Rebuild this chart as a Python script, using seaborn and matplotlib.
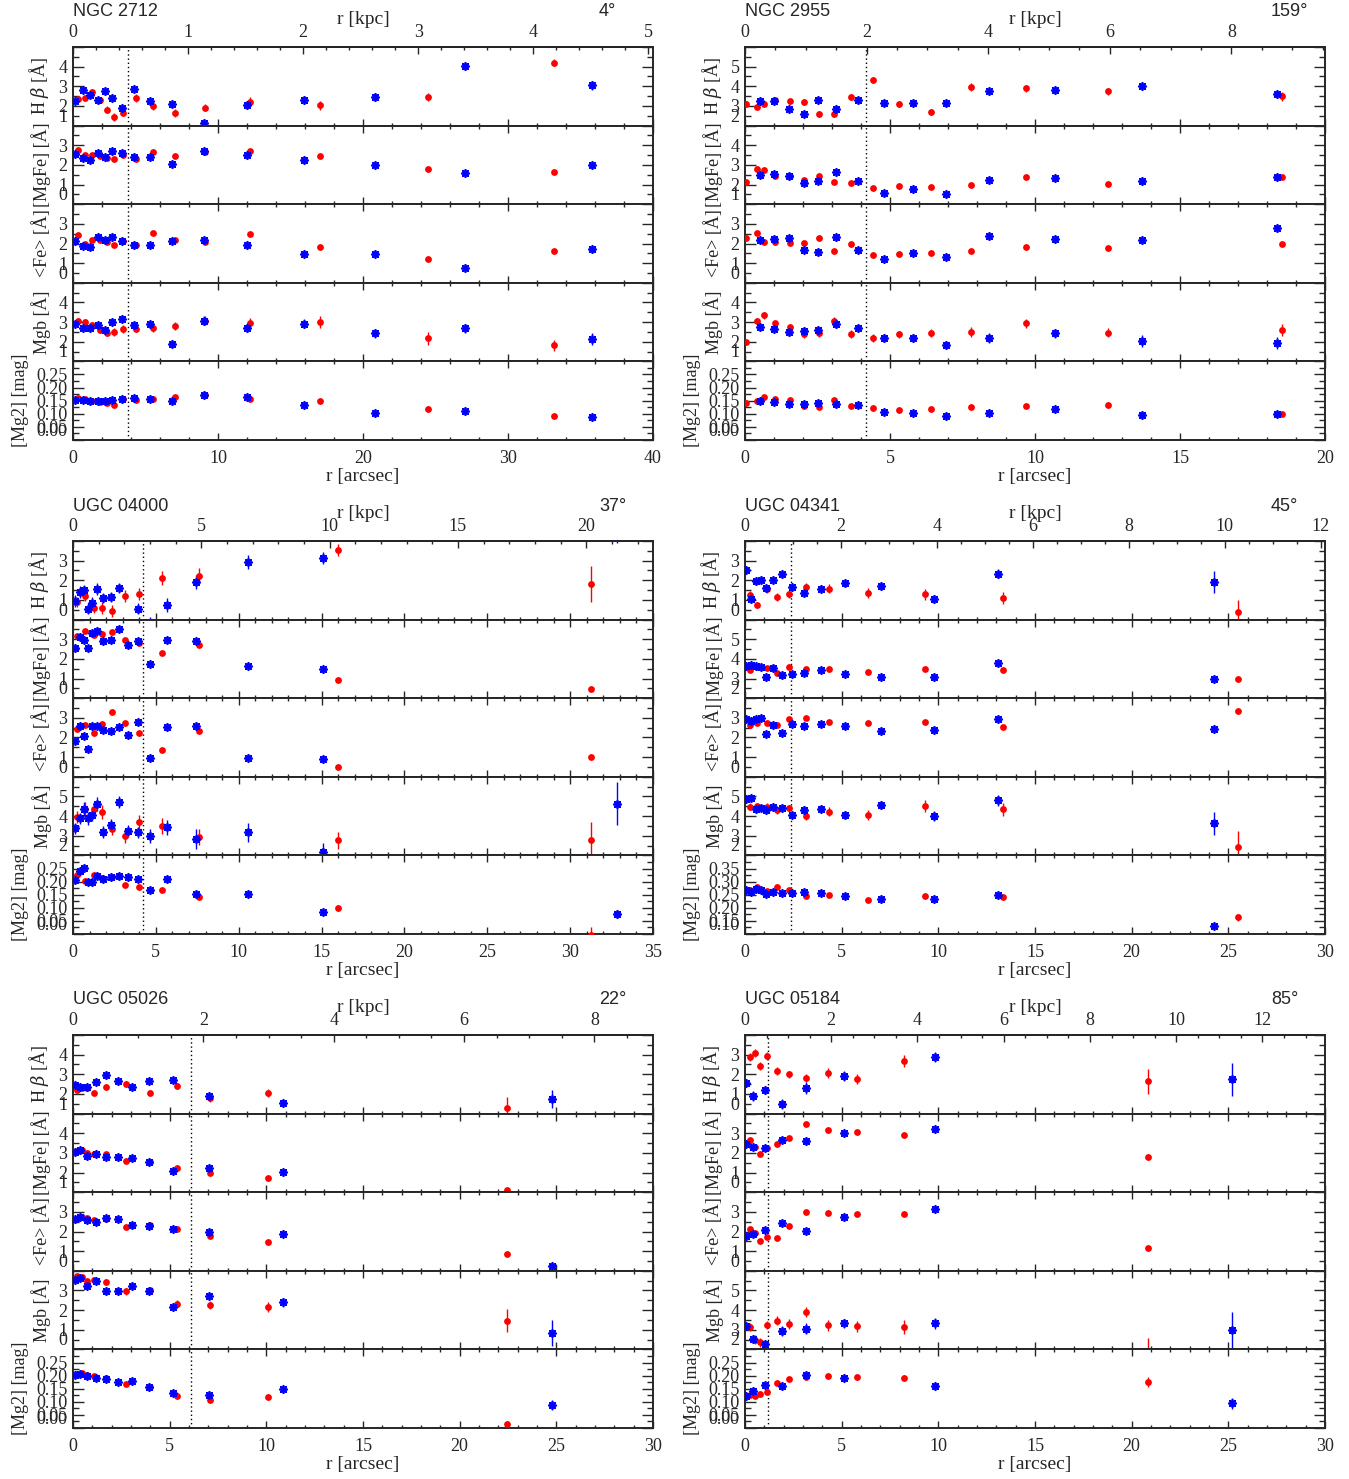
import numpy as np
import matplotlib
matplotlib.use("Agg")
import matplotlib.pyplot as plt
import seaborn as sns
from matplotlib.ticker import MultipleLocator, FixedLocator

nan = float("nan")

# ---------------- NGC 2712 ----------------
n2712_r_blue = [0.17, 0.70, 1.20, 1.70, 2.20, 2.70, 3.35, 4.20, 5.30, 6.80, 9.00, 12.00, 15.90, 20.80, 27.00, 35.80]
n2712_hb_blue = [2.25, 2.83, 2.58, 2.29, 2.75, 2.42, 1.88, 2.86, 2.27, 2.10, 1.15, 2.07, 2.32, 2.46, 4.02, 3.05]
n2712_hb_blue_err = [0.12, 0.12, 0.12, 0.12, 0.12, 0.12, 0.12, 0.12, 0.14, 0.15, 0.15, 0.20, 0.20, 0.20, 0.18, 0.22]
n2712_mgfe_blue = [2.53, 2.34, 2.25, 2.63, 2.39, 2.73, 2.61, 2.42, 2.42, 2.05, 2.71, 2.49, 2.27, 2.00, 1.61, 2.00]
n2712_fe_blue = [2.12, 1.88, 1.81, 2.34, 2.20, 2.32, 2.12, 1.90, 1.93, 2.12, 2.17, 1.93, 1.49, 1.47, 0.76, 1.73]
n2712_mgb_blue = [2.88, 2.71, 2.71, 2.83, 2.58, 3.02, 3.15, 2.83, 2.92, 1.90, 3.08, 2.71, 2.92, 2.42, 2.68, 2.15]
n2712_mgb_blue_err = [0.12, 0.12, 0.12, 0.12, 0.12, 0.14, 0.14, 0.15, 0.16, 0.18, 0.22, 0.22, 0.24, 0.24, 0.24, 0.32]
n2712_mg2_blue = [0.154, 0.154, 0.147, 0.147, 0.147, 0.151, 0.156, 0.159, 0.158, 0.147, 0.172, 0.165, 0.133, 0.103, 0.109, 0.089]
n2712_mg2_blue_err = [0.006, 0.006, 0.006, 0.006, 0.006, 0.006, 0.006, 0.006, 0.006, 0.007, 0.007, 0.007, 0.007, 0.008, 0.008, 0.008]
n2712_r_red = [0.32, 0.84, 1.34, 1.83, 2.35, 2.85, 3.46, 4.36, 5.50, 7.00, 9.13, 12.24, 17.06, 24.50, 33.20]
n2712_hb_red = [2.36, 2.39, 2.69, 2.32, 1.80, 1.42, 1.66, 2.42, 1.98, 1.66, 1.92, 2.22, 2.03, 2.46, 4.20]
n2712_hb_red_err = [0.12, 0.12, 0.15, 0.15, 0.18, 0.20, 0.18, 0.20, 0.20, 0.20, 0.20, 0.22, 0.22, 0.22, 0.18]
n2712_mgfe_red = [2.78, 2.49, 2.49, 2.44, 2.37, 2.29, 2.51, 2.32, 2.64, 2.47, 2.68, 2.73, 2.46, 1.81, 1.63]
n2712_fe_red = [2.41, 1.98, 2.19, 2.17, 2.08, 1.92, 2.14, 1.92, 2.51, 2.20, 2.08, 2.47, 1.80, 1.20, 1.64]
n2712_mgb_red = [3.08, 3.02, 2.85, 2.59, 2.46, 2.51, 2.66, 2.66, 2.71, 2.80, 3.08, 2.95, 3.02, 2.17, 1.81]
n2712_mgb_red_err = [0.12, 0.12, 0.15, 0.15, 0.18, 0.20, 0.20, 0.18, 0.20, 0.22, 0.25, 0.25, 0.30, 0.35, 0.30]
n2712_mg2_red = [0.160, 0.155, 0.147, 0.145, 0.142, 0.133, 0.156, 0.154, 0.155, 0.165, 0.172, 0.156, 0.149, 0.120, 0.093]
n2712_mg2_red_err = [0.006, 0.006, 0.006, 0.006, 0.006, 0.006, 0.006, 0.006, 0.006, 0.007, 0.007, 0.007, 0.007, 0.008, 0.008]

# ---------------- NGC 2955 ----------------
n2955_r_blue = [0.50, 1.01, 1.53, 2.03, 2.53, 3.15, 3.91, 4.79, 5.79, 6.93, 8.41, 10.68, 13.70, 18.35]
n2955_hb_blue = [3.24, 3.24, 2.86, 2.58, 3.29, 2.83, 3.32, 3.14, 3.14, 3.17, 3.76, 3.80, 4.03, 3.59]
n2955_hb_blue_err = [0.15, 0.15, 0.15, 0.15, 0.15, 0.15, 0.12, 0.15, 0.15, 0.15, 0.15, 0.15, 0.15, 0.18]
n2955_mgfe_blue = [2.49, 2.54, 2.44, 2.10, 2.17, 2.63, 2.19, 1.59, 1.76, 1.54, 2.25, 2.31, 2.17, 2.39]
n2955_fe_blue = [2.17, 2.25, 2.29, 1.69, 1.56, 2.31, 1.69, 1.22, 1.51, 1.32, 2.36, 2.25, 2.20, 2.80]
n2955_mgb_blue = [2.76, 2.66, 2.49, 2.54, 2.59, 2.88, 2.68, 2.17, 2.17, 1.83, 2.17, 2.42, 2.03, 1.92]
n2955_mgb_blue_err = [0.15, 0.15, 0.20, 0.20, 0.20, 0.20, 0.15, 0.20, 0.20, 0.22, 0.25, 0.25, 0.30, 0.30]
n2955_mg2_blue = [0.147, 0.144, 0.137, 0.139, 0.140, 0.136, 0.133, 0.107, 0.104, 0.092, 0.103, 0.120, 0.095, 0.098]
n2955_mg2_blue_err = [0.006, 0.006, 0.006, 0.006, 0.006, 0.006, 0.006, 0.006, 0.006, 0.006, 0.006, 0.006, 0.007, 0.007]
n2955_r_red = [0.03, 0.41, 0.66, 1.03, 1.54, 2.03, 2.56, 3.06, 3.66, 4.43, 5.31, 6.43, 7.81, 9.68, 12.53, 18.50]
n2955_hb_red = [3.12, 2.93, 3.08, 3.32, 3.24, 3.19, 2.58, 2.58, 3.46, 4.34, 3.10, 2.71, 3.95, 3.90, 3.75, 3.49]
n2955_hb_red_err = [0.12, 0.12, 0.15, 0.12, 0.12, 0.15, 0.15, 0.15, 0.15, 0.15, 0.15, 0.15, 0.20, 0.18, 0.18, 0.22]
n2955_mgfe_red = [2.14, 2.81, 2.73, 2.41, 2.46, 2.22, 2.44, 2.12, 2.10, 1.83, 1.92, 1.88, 1.97, 2.39, 2.03, 2.39]
n2955_fe_red = [2.29, 2.51, 2.08, 2.07, 2.02, 2.05, 2.29, 1.61, 2.00, 1.41, 1.49, 1.54, 1.63, 1.81, 1.75, 1.98]
n2955_mgb_red = [1.98, 3.05, 3.34, 2.93, 2.75, 2.39, 2.46, 3.07, 2.41, 2.19, 2.37, 2.46, 2.51, 2.93, 2.47, 2.59]
n2955_mgb_red_err = [0.12, 0.15, 0.18, 0.15, 0.15, 0.20, 0.20, 0.20, 0.20, 0.20, 0.20, 0.20, 0.25, 0.22, 0.22, 0.30]
n2955_mg2_red = [0.142, 0.150, 0.163, 0.155, 0.151, 0.131, 0.127, 0.151, 0.128, 0.122, 0.114, 0.118, 0.127, 0.128, 0.133, 0.099]
n2955_mg2_red_err = [0.006, 0.006, 0.006, 0.006, 0.006, 0.006, 0.006, 0.006, 0.006, 0.006, 0.006, 0.006, 0.006, 0.006, 0.007, 0.008]

# ---------------- UGC 04000 ----------------
u4000_r_blue = [0.15, 0.41, 0.66, 0.92, 1.17, 1.42, 1.80, 2.29, 2.80, 3.30, 3.94, 4.65, 5.67, 7.40, 10.57, 15.10, 32.84]
u4000_hb_blue = [0.95, 1.41, 1.51, 0.56, 0.86, 1.56, 1.10, 1.14, 1.59, nan, 0.56, -0.30, 0.73, 1.92, 2.93, 3.15, 4.60]
u4000_hb_blue_err = [0.30, 0.30, 0.25, 0.30, 0.30, 0.30, 0.25, 0.25, 0.25, 0.30, 0.30, 0.45, 0.35, 0.35, 0.35, 0.30, 0.70]
u4000_mgfe_blue = [2.56, 3.12, 2.97, 2.54, 3.31, 3.42, 2.92, 2.97, 3.51, 2.69, 2.92, 1.73, 2.98, 2.90, 1.63, 1.49, nan]
u4000_fe_blue = [1.83, 2.61, 2.08, 1.39, 2.59, 2.58, 2.37, 2.34, 2.53, 2.15, 2.78, 0.97, 2.53, 2.61, 0.98, 0.93, nan]
u4000_mgb_blue = [3.37, 3.88, 4.36, 3.88, 4.05, 4.61, 3.20, 3.54, 4.73, 3.24, 3.17, 3.00, 3.42, 2.83, 3.17, 2.15, 4.64]
u4000_mgb_blue_err = [0.30, 0.30, 0.35, 0.35, 0.30, 0.35, 0.30, 0.30, 0.30, 0.30, 0.30, 0.35, 0.40, 0.50, 0.50, 0.50, 1.10]
u4000_mg2_blue = [0.205, 0.240, 0.253, 0.198, 0.198, 0.221, 0.211, 0.217, 0.220, 0.216, 0.211, 0.169, 0.210, 0.154, 0.154, 0.085, 0.075]
u4000_mg2_blue_err = [0.008, 0.008, 0.008, 0.008, 0.008, 0.008, 0.008, 0.008, 0.008, 0.008, 0.008, 0.008, 0.008, 0.010, 0.010, 0.010, 0.015]
u4000_r_red = [0.23, 0.74, 1.25, 1.75, 2.36, 3.13, 3.99, 5.36, 7.63, 15.99, 31.24]
u4000_hb_red = [0.88, 1.20, 0.59, 0.59, 0.44, 1.19, 1.29, 2.10, 2.24, 3.54, 1.81]
u4000_hb_red_err = [0.25, 0.25, 0.25, 0.30, 0.30, 0.30, 0.30, 0.35, 0.40, 0.30, 0.90]
u4000_mgfe_red = [3.15, 3.42, 3.20, 3.29, 3.37, 2.98, 2.83, 2.31, 2.69, 0.92, 0.47]
u4000_fe_red = [2.42, 2.66, 2.24, 2.68, 3.29, 2.76, 2.22, 1.36, 2.31, 0.51, 1.02]
u4000_mgb_red = [3.97, 4.36, 4.36, 4.22, 3.34, 2.98, 3.71, 3.49, 2.95, 2.76, 2.76]
u4000_mgb_red_err = [0.30, 0.35, 0.35, 0.35, 0.30, 0.35, 0.35, 0.40, 0.40, 0.45, 0.95]
u4000_mg2_red = [0.226, 0.203, 0.225, 0.214, 0.216, 0.186, 0.179, 0.169, 0.142, 0.099, -0.005]
u4000_mg2_red_err = [0.008, 0.008, 0.008, 0.008, 0.008, 0.008, 0.008, 0.008, 0.010, 0.012, 0.030]

# ---------------- UGC 04341 ----------------
u4341_r_blue = [0.04, 0.29, 0.55, 0.82, 1.08, 1.43, 1.92, 2.45, 3.07, 3.93, 5.17, 7.06, 9.76, 13.11, 24.28]
u4341_hb_blue = [2.54, 1.03, 1.95, 2.02, 1.59, 2.02, 2.32, 1.64, 1.34, 1.56, 1.86, 1.69, 1.05, 2.34, 1.90]
u4341_hb_blue_err = [0.15, 0.15, 0.12, 0.12, 0.15, 0.12, 0.15, 0.15, 0.15, 0.18, 0.18, 0.18, 0.20, 0.22, 0.55]
u4341_mgfe_blue = [3.64, 3.71, 3.66, 3.58, 3.07, 3.53, 3.19, 3.22, 3.27, 3.44, 3.24, 3.07, 3.07, 3.78, 2.97]
u4341_fe_blue = [2.92, 2.83, 2.92, 3.00, 2.19, 2.66, 2.25, 2.71, 2.58, 2.69, 2.61, 2.32, 2.39, 2.95, 2.42]
u4341_mgb_blue = [4.86, 4.90, 4.34, 4.39, 4.31, 4.44, 4.39, 4.05, 4.31, 4.36, 4.05, 4.56, 4.02, 4.81, 3.63]
u4341_mgb_blue_err = [0.15, 0.15, 0.15, 0.15, 0.15, 0.15, 0.15, 0.15, 0.18, 0.20, 0.22, 0.22, 0.25, 0.28, 0.60]
u4341_mg2_blue = [0.267, 0.260, 0.270, 0.269, 0.254, 0.260, 0.258, 0.256, 0.260, 0.256, 0.246, 0.235, 0.235, 0.247, 0.131]
u4341_mg2_blue_err = [0.006, 0.006, 0.006, 0.006, 0.006, 0.006, 0.006, 0.006, 0.006, 0.006, 0.006, 0.006, 0.006, 0.006, 0.010]
u4341_r_red = [0.24, 0.62, 1.13, 1.63, 2.25, 3.13, 4.35, 6.36, 9.29, 13.36, 25.52]
u4341_hb_red = [1.25, 0.75, 1.54, 1.17, 1.29, 1.68, 1.58, 1.36, 1.29, 1.10, 0.37]
u4341_hb_red_err = [0.20, 0.15, 0.18, 0.20, 0.20, 0.20, 0.22, 0.25, 0.28, 0.30, 0.65]
u4341_mgfe_red = [3.46, 3.59, 3.53, 3.27, 3.59, 3.51, 3.49, 3.31, 3.49, 3.41, 2.97]
u4341_fe_red = [2.63, 2.76, 2.75, 2.64, 2.95, 3.00, 2.78, 2.73, 2.78, 2.54, 3.34]
u4341_mgb_red = [4.47, 4.51, 4.47, 4.31, 4.39, 4.00, 4.22, 4.05, 4.51, 4.34, 2.44]
u4341_mgb_red_err = [0.18, 0.15, 0.18, 0.20, 0.18, 0.22, 0.22, 0.25, 0.30, 0.35, 0.80]
u4341_mg2_red = [0.267, 0.278, 0.265, 0.278, 0.267, 0.245, 0.247, 0.231, 0.245, 0.242, 0.164]
u4341_mg2_red_err = [0.006, 0.006, 0.006, 0.006, 0.006, 0.006, 0.006, 0.006, 0.007, 0.007, 0.014]

# ---------------- UGC 05026 ----------------
u5026_r_blue = [0.09, 0.35, 0.70, 1.20, 1.72, 2.31, 3.07, 3.92, 5.16, 7.02, 10.87, 24.75]
u5026_hb_blue = [2.47, 2.37, 2.37, 2.61, 2.95, 2.68, 2.37, 2.66, 2.69, 1.90, 1.56, 1.75]
u5026_hb_blue_err = [0.10, 0.10, 0.10, 0.10, 0.10, 0.10, 0.10, 0.12, 0.12, 0.15, 0.15, 0.45]
u5026_mgfe_blue = [3.05, 3.15, 2.83, 2.95, 2.80, 2.78, 2.73, 2.53, 2.10, 2.22, 2.02, nan]
u5026_fe_blue = [2.66, 2.75, 2.61, 2.46, 2.71, 2.66, 2.31, 2.27, 2.12, 1.95, 1.86, 0.25]
u5026_mgb_blue = [3.54, 3.63, 3.24, 3.46, 2.95, 2.98, 3.25, 2.95, 2.14, 2.73, 2.39, 0.83]
u5026_mgb_blue_err = [0.10, 0.10, 0.10, 0.12, 0.12, 0.12, 0.12, 0.15, 0.15, 0.15, 0.22, 0.65]
u5026_mg2_blue = [0.203, 0.208, 0.197, 0.191, 0.186, 0.176, 0.179, 0.158, 0.133, 0.125, 0.148, 0.087]
u5026_mg2_blue_err = [0.005, 0.005, 0.005, 0.005, 0.006, 0.006, 0.006, 0.006, 0.007, 0.007, 0.008, 0.018]
u5026_r_red = [0.20, 0.46, 0.72, 1.07, 1.72, 2.72, 3.99, 5.36, 7.10, 10.07, 22.44]
u5026_hb_red = [2.22, 2.32, 2.32, 2.07, 2.34, 2.51, 2.05, 2.42, 1.78, 2.05, 1.29]
u5026_hb_red_err = [0.12, 0.12, 0.12, 0.12, 0.15, 0.15, 0.15, 0.15, 0.20, 0.22, 0.55]
u5026_mgfe_red = [3.12, 3.14, 3.02, 2.93, 2.93, 2.59, 2.56, 2.22, 1.98, 1.71, 1.12]
u5026_fe_red = [2.66, 2.76, 2.69, 2.56, 2.63, 2.24, 2.32, 2.15, 1.76, 1.47, 0.86]
u5026_mgb_red = [3.71, 3.68, 3.46, 3.54, 3.41, 2.95, 3.00, 2.31, 2.27, 2.14, 1.47]
u5026_mgb_red_err = [0.12, 0.12, 0.12, 0.12, 0.15, 0.18, 0.18, 0.20, 0.20, 0.25, 0.60]
u5026_mg2_red = [0.208, 0.209, 0.204, 0.197, 0.189, 0.169, 0.157, 0.124, 0.107, 0.117, 0.015]
u5026_mg2_red_err = [0.005, 0.005, 0.005, 0.005, 0.006, 0.006, 0.006, 0.006, 0.007, 0.007, 0.010]

# ---------------- UGC 05184 ----------------
u5184_r_blue = [0.04, 0.40, 1.04, 1.90, 3.16, 5.10, 9.82, 25.20]
u5184_hb_blue = [1.58, 0.90, 1.20, 0.49, 1.32, 1.92, 2.88, 1.75]
u5184_hb_blue_err = [0.20, 0.25, 0.22, 0.25, 0.30, 0.25, 0.25, 0.85]
u5184_mgfe_blue = [2.46, 2.29, 2.27, 2.66, 2.59, 3.02, 3.20, nan]
u5184_fe_blue = [1.75, 1.85, 2.10, 2.44, 2.03, 2.76, 3.12, nan]
u5184_mgb_blue = [3.20, 2.53, 2.27, 2.95, 3.05, 3.32, 3.34, 2.97]
u5184_mgb_blue_err = [0.20, 0.22, 0.22, 0.25, 0.28, 0.25, 0.28, 0.95]
u5184_mg2_blue = [0.122, 0.142, 0.164, 0.160, 0.202, 0.189, 0.160, 0.094]
u5184_mg2_blue_err = [0.008, 0.008, 0.008, 0.008, 0.008, 0.008, 0.008, 0.020]
u5184_r_red = [0.26, 0.53, 0.77, 1.15, 1.66, 2.30, 3.16, 4.28, 5.78, 8.21, 20.84]
u5184_hb_red = [2.86, 3.07, 2.44, 2.93, 2.17, 2.00, 1.81, 2.05, 1.78, 2.68, 1.64]
u5184_hb_red_err = [0.20, 0.20, 0.20, 0.18, 0.20, 0.18, 0.22, 0.25, 0.25, 0.30, 0.65]
u5184_mgfe_red = [2.64, 2.29, 1.93, 2.24, 2.46, 2.75, 3.46, 3.17, 3.05, 2.92, 1.78]
u5184_fe_red = [2.12, 1.92, 1.53, 1.71, 1.68, 2.29, 3.00, 2.93, 2.88, 2.90, 1.17]
u5184_mgb_red = [3.14, 2.49, 2.36, 3.22, 3.47, 3.29, 3.90, 3.22, 3.17, 3.14, 1.80]
u5184_mgb_red_err = [0.22, 0.22, 0.22, 0.20, 0.25, 0.25, 0.25, 0.28, 0.28, 0.35, 0.78]
u5184_mg2_red = [0.126, 0.123, 0.128, 0.139, 0.173, 0.187, 0.193, 0.198, 0.193, 0.192, 0.175]
u5184_mg2_red_err = [0.006, 0.006, 0.006, 0.006, 0.007, 0.007, 0.007, 0.007, 0.008, 0.009, 0.020]

galaxy_names = ["NGC 2712", "NGC 2955", "UGC 04000", "UGC 04341", "UGC 05026", "UGC 05184"]
galaxy_prefixes = ["n2712", "n2955", "u4000", "u4341", "u5026", "u5184"]
galaxy_angles = ["4°", "159°", "37°", "45°", "22°", "85°"]
r_max_arcsec = [40, 20, 35, 30, 30, 30]
r_max_kpc = [5.04, 9.54, 22.6, 12.09, 8.9, 13.45]
r_bulge = [3.82, 4.18, 4.25, 2.38, 6.12, 1.17]

index_keys = ["hb", "mgfe", "fe", "mgb", "mg2"]
index_labels = [r"H $\beta$ [Å]", "[MgFe] [Å]", "<Fe> [Å]", "Mgb [Å]", "[Mg2] [mag]"]

# layout / style (not data)
ylims_all = [
    [(1, 5), (0, 4), (0, 4), (1, 5), (0, 0.3)],
    [(2, 6), (1, 5), (0, 4), (1, 5), (0, 0.3)],
    [(0, 4), (0, 4), (0, 4), (2, 6), (0, 0.3)],
    [(0, 4), (2, 6), (0, 4), (2, 6), (0.1, 0.4)],
    [(1, 5), (1, 5), (0, 4), (0, 4), (0, 0.3)],
    [(0, 4), (0, 4), (0, 4), (2, 6), (0, 0.3)],
]
xmajor = [10, 5, 5, 5, 5, 5]
xminor = [2, 1, 1, 1, 1, 1]
kmajor = [1, 2, 5, 2, 2, 2]
kminor = [0.2, 0.5, 1, 0.5, 0.5, 0.5]
panel_x0 = [73, 745, 73, 745, 73, 745]
panel_y0 = [47, 47, 541, 541, 1035, 1035]

W, H = 1349, 1479
AXW = 580
SUBH = 78.6

sns.set_style("ticks")
plt.rcParams["font.family"] = ["Liberation Serif", "DejaVu Serif"]
plt.rcParams["mathtext.fontset"] = "dejavuserif"
plt.rcParams["axes.linewidth"] = 1.4

fig = plt.figure(figsize=(W / 100, H / 100), dpi=100)
ast_marker = (8, 2, 0)

g = globals()
for gi in range(6):
    pre = galaxy_prefixes[gi]
    x0, y0 = panel_x0[gi], panel_y0[gi]
    xmax = r_max_arcsec[gi]
    for i, key in enumerate(index_keys):
        left = x0 / W
        bottom = 1 - (y0 + (i + 1) * SUBH) / H
        ax = fig.add_axes([left, bottom, AXW / W, SUBH / H])
        for side, col, mk, s, lw in (("red", "red", "o", 24, 0), ("blue", "blue", ast_marker, 28, 1.3)):
            r = np.asarray(g[f"{pre}_r_{side}"], dtype=float)
            v = np.asarray(g[f"{pre}_{key}_{side}"], dtype=float)
            err = g.get(f"{pre}_{key}_{side}_err")
            if err is not None:
                ax.errorbar(r, v, yerr=err, fmt="none", ecolor=col, elinewidth=1.0,
                            capsize=0, zorder=2)
            sns.scatterplot(x=r, y=v, ax=ax, color=col, marker=mk, s=s,
                            linewidth=lw, zorder=3, legend=False)
        ax.axvline(r_bulge[gi], color="black", ls=(0, (1, 2)), lw=1.0, zorder=1)
        lo, hi = ylims_all[gi][i]
        step = 0.05 if key == "mg2" else 1.0
        ticks = np.round(np.arange(lo, hi + step / 2, step), 3)
        ax.set_ylim(lo, hi)
        ax.set_xlim(0, xmax)
        ax.set_yticks(ticks)
        if key == "mg2":
            labels = ["{:.2f}".format(t) for t in ticks]
        else:
            labels = ["{:d}".format(int(round(t))) for t in ticks]
        labels[-1] = ""
        ax.set_yticklabels(labels)
        ax.yaxis.set_minor_locator(MultipleLocator(step / 2))
        ax.xaxis.set_major_locator(MultipleLocator(xmajor[gi]))
        ax.xaxis.set_minor_locator(MultipleLocator(xminor[gi]))
        ax.tick_params(axis="both", which="both", direction="in", labelsize=13,
                       left=True, right=True, top=(i != 0), bottom=True,
                       labelbottom=(i == 4), width=1.0)
        ax.tick_params(axis="y", which="major", length=8, pad=4)
        ax.tick_params(axis="y", which="minor", length=4)
        ax.tick_params(axis="x", which="major", length=5, pad=7)
        ax.tick_params(axis="x", which="minor", length=2.5)
        ax.yaxis.get_major_ticks()[0].label1.set_verticalalignment("bottom")
        ax.set_xlabel("")
        ax.set_ylabel(index_labels[i], fontsize=13, labelpad=5)
        for sp in ax.spines.values():
            sp.set_visible(True)
            sp.set_linewidth(1.4)
        if i == 0:
            k = r_max_kpc[gi] / xmax
            sec = ax.secondary_xaxis("top", functions=(lambda x, k=k: x * k,
                                                       lambda x, k=k: x / k))
            kmax = r_max_kpc[gi]
            sec.xaxis.set_major_locator(FixedLocator(
                np.arange(0, kmax + 1e-6, kmajor[gi])))
            sec.xaxis.set_minor_locator(FixedLocator(
                np.arange(0, kmax + 1e-6, kminor[gi])))
            sec.tick_params(which="both", direction="in", labelsize=13, width=1.0)
            sec.tick_params(which="major", length=5, pad=4)
            sec.tick_params(which="minor", length=2.5)
            sec.spines["top"].set_linewidth(1.4)
    # panel texts
    fig.text(x0 / W, 1 - (y0 - 35) / H, galaxy_names[gi], ha="left", va="center",
             fontsize=13, family=["Liberation Sans", "DejaVu Sans"])
    fig.text((x0 + 526) / W, 1 - (y0 - 35) / H, galaxy_angles[gi], ha="left",
             va="center", fontsize=13, family=["Liberation Sans", "DejaVu Sans"])
    fig.text((x0 + AXW / 2) / W, 1 - (y0 - 27) / H, "r [kpc]", ha="center",
             va="center", fontsize=14)
    fig.text((x0 + AXW / 2) / W, 1 - (y0 + 5 * SUBH + 36) / H, "r [arcsec]",
             ha="center", va="center", fontsize=14)

fig.savefig("out.png", dpi=100)
